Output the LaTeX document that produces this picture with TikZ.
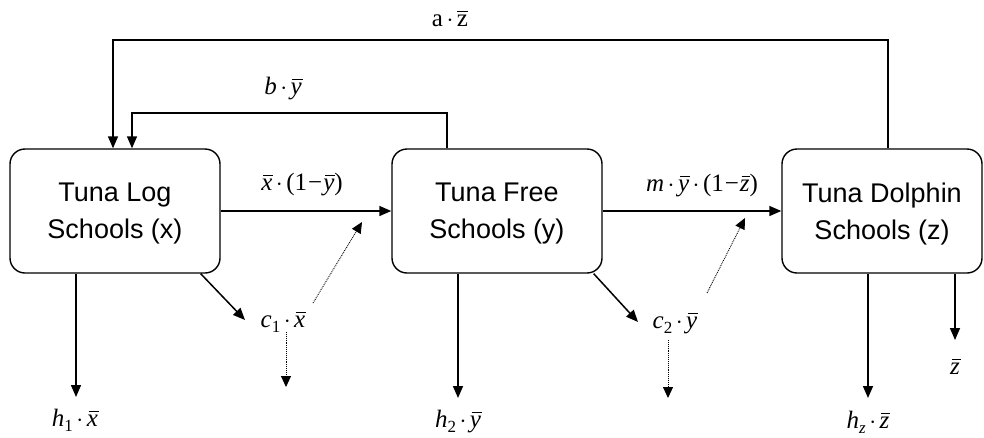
\documentclass[tikz,border=0pt]{standalone}
\usepackage{fontspec}
\setsansfont{Liberation Sans}
\newfontfamily\lser{Liberation Serif}
\newcommand\vb[1]{\setbox0\hbox{\itshape #1}\leavevmode\rlap{\kern1.8pt\rule[14.5pt]{\dimexpr\wd0-1pt\relax}{1.1pt}}\box0}
\newcommand\ub[1]{\setbox0\hbox{#1}\leavevmode\rlap{\kern0.3pt\rule[14.5pt]{\dimexpr\wd0-0.6pt\relax}{1.1pt}}\box0}
\newcommand\cd{\kern3.5pt$\cdot$\kern3.5pt}
\newcommand\sbs[1]{\raisebox{-5pt}{\fontsize{17}{17}\selectfont #1}}
\usetikzlibrary{arrows.meta,calc}
\begin{document}
\begin{tikzpicture}[x=1pt,y=-1pt,
  box/.style={draw,line width=1.4pt,rounded corners=15pt,minimum height=124pt,inner sep=0pt},
  boxtext/.style={align=center,font=\sffamily\fontsize{27}{37}\selectfont,inner sep=0pt},
  flow/.style={line width=1.5pt,-{Triangle[length=12pt,width=10pt]}},
  dflow/.style={line width=0.9pt,densely dotted,-{Triangle[length=11pt,width=10pt]}},
  lab/.style={font=\lser\fontsize{25}{30}\selectfont,inner sep=1pt}]
\useasboundingbox (0,0) rectangle (984,437);
% boxes
\node[box,minimum width=210pt] (X) at (115,211) {};
\node[box,minimum width=210pt] (Y) at (497,211) {};
\node[box,minimum width=200pt] (Z) at (882,211) {};
\node[boxtext] (Xt) at ($(X.center)+(0,3)$) {Tuna Log\\Schools (x)};
\node[boxtext] (Yt) at ($(Y.center)+(0,3)$) {Tuna Free\\Schools (y)};
\node[boxtext] (Zt) at ($(Z.center)+(0,3)$) {Tuna Dolphin\\Schools (z)};
% labels
\node[lab] (lxy) at (302,185) {\vb{x}\cd(1\kern1pt−\kern1pt\vb{y})};
\node[lab] (lyz) at (702,186) {{\itshape m}\cd\vb{y}\cd(1\kern1pt−\kern1pt\vb{z})};
\node[lab] (la) at (450,19) {a\cd\ub{z}};
\node[lab] (lb) at (283,89) {{\itshape b}\cd\vb{y}};
\node[lab] (h1) at (75,420) {{\itshape h}\sbs{1}\cd\vb{x}};
\node[lab] (c1) at (283,322) {{\itshape c}\sbs{1}\cd\vb{x}};
\node[lab] (h2) at (458,422) {{\itshape h}\sbs{2}\cd\vb{y}};
\node[lab] (c2) at (675,323) {{\itshape c}\sbs{2}\cd\vb{y}};
\node[lab] (hz) at (868,422) {{\itshape h}\sbs{\itshape z}\cd\vb{z}};
\node[lab] (zb) at (955,367) {\vb{z}};
% coordinates for free ends
\coordinate (a1) at (888,40);
\coordinate (a2) at (113,40);
\coordinate (b1) at (447,113);
\coordinate (b2) at (132,113);
\coordinate (h1e) at (76,397);
\coordinate (h2e) at (458,398);
\coordinate (hze) at (868,398);
\coordinate (zbe) at (955,340);
\coordinate (c1e) at (245,320);
\coordinate (c2e) at (638,322);
\coordinate (d1s) at (313,303);
\coordinate (d1e) at (362,222);
\coordinate (d1d) at (286,332);
\coordinate (d1f) at (286,387);
\coordinate (d2s) at (707,293);
\coordinate (d2e) at (745,218);
\coordinate (d2d) at (668,340);
\coordinate (d2f) at (668,398);
% main flows
\draw[flow] (X.east) -- (Y.west);
\draw[flow] (Y.east) -- (Z.west);
\draw[flow] (Z.north -| a1) |- (a2) -- (X.north -| a2);
\draw[flow] (Y.north -| b1) |- (b2) -- (X.north -| b2);
% downward flows
\draw[flow] (X.south -| h1e) -- (h1e);
\draw[flow] (Y.south -| h2e) -- (h2e);
\draw[flow] (Z.south -| hze) -- (hze);
\draw[flow] (Z.south -| zbe) -- (zbe);
\draw[flow] ($(X.south east)+(-20,0)$) -- (c1e);
\draw[flow] ($(Y.south east)+(-9,0)$) -- (c2e);
% dotted flows
\draw[dflow] (d1s) -- (d1e);
\draw[dflow] (d1d) -- (d1f);
\draw[dflow] (d2s) -- (d2e);
\draw[dflow] (d2d) -- (d2f);
\end{tikzpicture}
\end{document}
